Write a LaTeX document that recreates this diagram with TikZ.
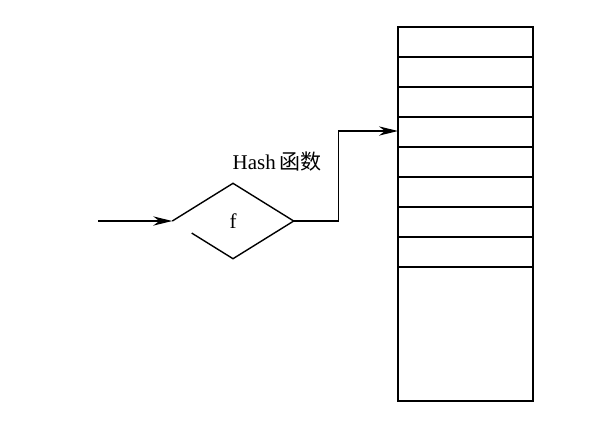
\documentclass[tikz,border=0pt]{standalone}
\usepackage{fontspec}
\setmainfont{Liberation Serif}
\newfontfamily\cjk{Noto Sans CJK SC}
\usetikzlibrary{shapes.geometric,arrows.meta,calc}

\tikzset{
    hashbox/.style={shape=diamond, minimum width=60pt, minimum height=37pt, inner sep=0pt},
    slots/.style={draw, minimum width=67.5pt, minimum height=187pt, inner sep=0pt},
    arr/.style={-{Stealth[length=9.5pt,width=4.6pt,inset=3pt]}}
}

\begin{document}
\begin{tikzpicture}[x=0.5pt,y=-0.5pt,line width=0.7pt,font=\fontsize{10.5}{12}\selectfont]
        \useasboundingbox (0,0) rectangle (613,425);

        % hash table
        \node[slots] (table) at (465.5,214) {};
        \foreach \y in {57,87,...,267}
            \draw (table.west |- 0,\y) -- (table.east |- 0,\y);

        % hash function
        \node[hashbox] (f) at (233,221) {f};
        \draw (f.west) -- (f.north) -- (f.east) -- (f.south) -- ($(f.south)!0.68!(f.west)$);
        \node (lbl) at (277,162) {Hash\,\cjk{函数}};

        \coordinate (in) at (98,221);
        \coordinate (slot) at (398,131);
        \draw[arr] (in) -- (f.west);
        \draw[arr] (f.east) -- ++(45,0) |- (slot);
    \end{tikzpicture}
\end{document}
